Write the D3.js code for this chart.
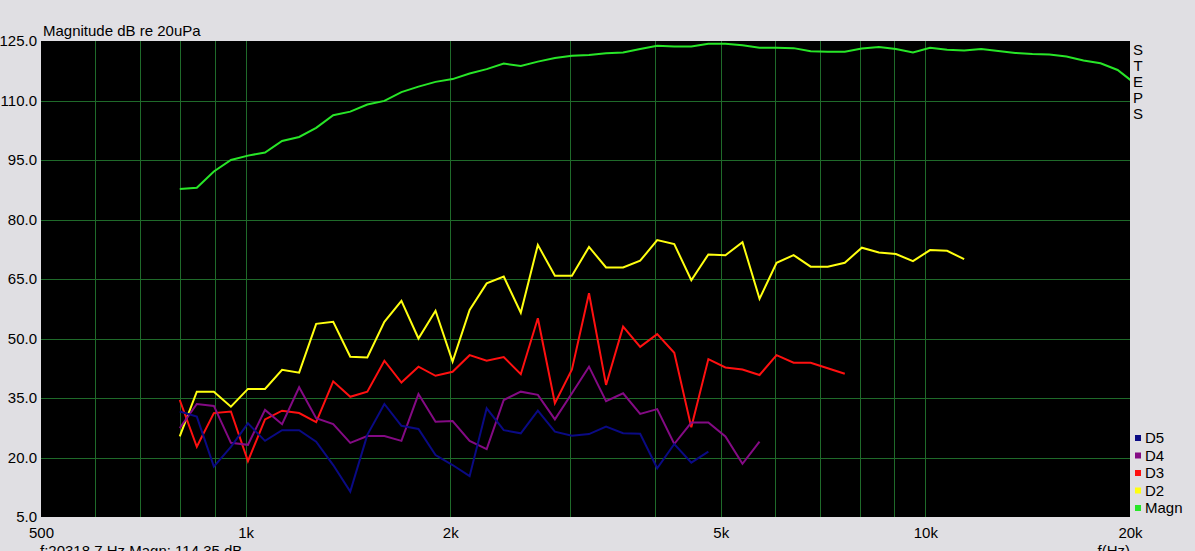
<!DOCTYPE html>
<html>
<head>
<meta charset="utf-8">
<script src="https://cdn.jsdelivr.net/npm/d3@7"></script>
<style>
  html, body { margin: 0; padding: 0; background: #e0dfe3; }
  svg { display: block; }
  text { font-family: "Liberation Sans", Arial, sans-serif; font-size: 15px; fill: #000; }
</style>
</head>
<body>
<svg id="chart" width="1195" height="551"></svg>
<script>
// ---- data ----
const freqs = [800, 847.6, 898.0, 951.4, 1007.9, 1067.9, 1131.4, 1198.7, 1269.9, 1345.4, 1425.4, 1510.2,
  1600, 1695.1, 1795.9, 1902.7, 2015.9, 2135.7, 2262.7, 2397.3, 2539.8, 2690.9, 2850.9, 3020.4,
  3200, 3390.3, 3591.9, 3805.5, 4031.7, 4271.5, 4525.5, 4794.6, 5079.7, 5381.7, 5701.8, 6040.8,
  6400, 6780.6, 7183.8, 7610.9, 8063.4, 8542.9, 9050.9, 9589.2, 10159.4, 10763.5, 11403.6, 12081.6,
  12800, 13561.2, 14367.5, 15221.8, 16126.9, 17085.9, 18101.8, 19178.4, 20318.7];

const magn = [87.7, 88.0, 92.1, 95.0, 96.1, 96.9, 99.8, 100.8, 103.1, 106.3, 107.2, 109.0,
  109.9, 112.1, 113.5, 114.7, 115.4, 116.8, 117.9, 119.3, 118.7, 119.8, 120.7, 121.3,
  121.5, 121.9, 122.1, 123.0, 123.8, 123.6, 123.6, 124.3, 124.3, 123.9, 123.3, 123.3,
  123.2, 122.4, 122.3, 122.3, 123.1, 123.5, 123.0, 122.1, 123.3, 122.8, 122.6, 123.0,
  122.5, 122.0, 121.7, 121.6, 121.1, 120.1, 119.4, 117.7, 114.35];

const d2 = [25.3, 36.6, 36.6, 32.8, 37.3, 37.3, 42.1, 41.4, 53.7, 54.2, 45.4, 45.2,
  54.2, 59.5, 50.0, 57.0, 44.2, 57.2, 63.9, 65.6, 56.5, 73.6, 65.8, 65.8,
  73.1, 67.9, 67.9, 69.6, 74.8, 73.8, 64.7, 71.2, 71.0, 74.3, 60.0, 69.1,
  71.0, 68.1, 68.1, 69.1, 72.9, 71.7, 71.3, 69.5, 72.3, 72.1, 70.0];

const d3s = [34.5, 22.7, 31.2, 31.6, 19.1, 29.6, 31.8, 31.2, 28.9, 39.2, 35.3, 36.6,
  44.4, 38.9, 42.9, 40.6, 41.6, 45.8, 44.4, 45.3, 41.0, 55.1, 33.7, 42.2,
  61.4, 38.3, 53.0, 47.9, 51.1, 46.4, 27.6, 44.8, 42.7, 42.2, 40.8, 45.8,
  43.9, 43.9, 42.5, 41.1];

const d4 = [27.4, 33.5, 33.0, 23.7, 23.2, 32.0, 28.4, 37.7, 29.9, 28.4, 23.7, 25.4,
  25.4, 24.2, 36.0, 29.0, 29.2, 24.2, 22.1, 34.5, 36.6, 35.8, 29.6, 36.2,
  42.9, 34.2, 36.2, 31.0, 32.2, 23.4, 28.8, 28.8, 25.3, 18.4, 24.0];

const d5 = [31.6, 30.3, 17.7, 22.7, 28.6, 24.2, 26.9, 26.9, 24.0, 18.1, 11.4, 25.7,
  33.5, 28.0, 27.2, 20.6, 18.1, 15.3, 32.4, 26.9, 26.1, 31.8, 26.5, 25.5,
  25.9, 27.8, 26.1, 26.0, 17.3, 23.4, 18.7, 21.5];

const yTicks = [5, 20, 35, 50, 65, 80, 95, 110, 125];
const xTickValues = [500, 1000, 2000, 5000, 10000, 20000];
const xTickLabels = ["500", "1k", "2k", "5k", "10k", "20k"];
const xGrid = [600, 700, 800, 900, 1000, 2000, 3000, 4000, 5000, 6000, 7000, 8000, 9000, 10000];
const legendNames = ["D5", "D4", "D3", "D2", "Magn"];
const sideLetters = ["S", "T", "E", "P", "S"];

// ---- drawing ----
const svg = d3.select("#chart");
const L = 41, T = 41, R = 1130, B = 517;
const x = d3.scaleLog().domain([500, 20000]).range([L, R]);
const y = d3.scaleLinear().domain([5, 125]).range([B, T]);

svg.append("defs").append("clipPath").attr("id", "clip")
  .append("rect").attr("x", L).attr("y", T).attr("width", R - L).attr("height", B - T);

svg.append("rect").attr("x", L).attr("y", T).attr("width", R - L).attr("height", B - T).attr("fill", "#000");

const grid = svg.append("g").attr("stroke", "#1f6a2a").attr("stroke-width", 1).attr("shape-rendering", "crispEdges");
grid.selectAll("line.v").data(xGrid).join("line").attr("class", "v")
  .attr("x1", d => Math.round(x(d)) + 0.5).attr("x2", d => Math.round(x(d)) + 0.5)
  .attr("y1", T).attr("y2", B);
grid.selectAll("line.h").data(yTicks.slice(1, -1)).join("line").attr("class", "h")
  .attr("x1", L).attr("x2", R)
  .attr("y1", d => Math.round(y(d)) + 0.5).attr("y2", d => Math.round(y(d)) + 0.5);

// axes
const yAxis = svg.append("g").attr("transform", `translate(${L},0)`)
  .call(d3.axisLeft(y).tickValues(yTicks).tickFormat(d => d.toFixed(1)).tickSize(0).tickPadding(4));
yAxis.select(".domain").remove();
yAxis.selectAll("text").style("font-family", '"Liberation Sans", Arial, sans-serif').style("font-size", "15px").attr("fill", "#000");

const xAxis = svg.append("g").attr("transform", `translate(0,${B})`)
  .call(d3.axisBottom(x).tickValues(xTickValues).tickFormat((d, i) => xTickLabels[i]).tickSize(0).tickPadding(10));
xAxis.select(".domain").remove();
xAxis.selectAll("text").style("font-family", '"Liberation Sans", Arial, sans-serif').style("font-size", "15px").attr("fill", "#000");

// series
const series = [
  { name: "D5", values: d5, color: "#0a0a84" },
  { name: "D4", values: d4, color: "#840a84" },
  { name: "D3", values: d3s, color: "#ff1010" },
  { name: "D2", values: d2, color: "#ffff10" },
  { name: "Magn", values: magn, color: "#28e628" }
];
const lineGen = d3.line().x((d, i) => x(freqs[i])).y(d => y(d));
const plot = svg.append("g").attr("clip-path", "url(#clip)");
series.slice().reverse().forEach(s => {
  plot.append("path").datum(s.values).attr("d", lineGen)
    .attr("fill", "none").attr("stroke", s.color).attr("stroke-width", 2).attr("stroke-linejoin", "miter");
});

// texts
svg.append("text").attr("x", 43).attr("y", 36).text("Magnitude dB re 20uPa");
svg.append("text").attr("x", 1130).attr("y", 556).attr("text-anchor", "end").text("f(Hz)");
svg.append("text").attr("x", 40).attr("y", 556).text("f:20318.7 Hz  Magn: 114.35 dB");

const side = svg.append("g");
side.selectAll("text").data(sideLetters).join("text")
  .attr("x", 1138).attr("y", (d, i) => 50 + i * 15.9).attr("dy", "0.36em")
  .attr("text-anchor", "middle").text(d => d);

// legend
const leg = svg.append("g");
legendNames.forEach((n, i) => {
  const s = series.find(t => t.name === n);
  const cy = 438 + i * 17.5;
  leg.append("rect").attr("x", 1135).attr("y", cy - 3).attr("width", 6).attr("height", 6).attr("fill", s.color);
  leg.append("text").attr("x", 1145).attr("y", cy).attr("dy", "0.36em").text(n);
});
</script>
</body>
</html>
